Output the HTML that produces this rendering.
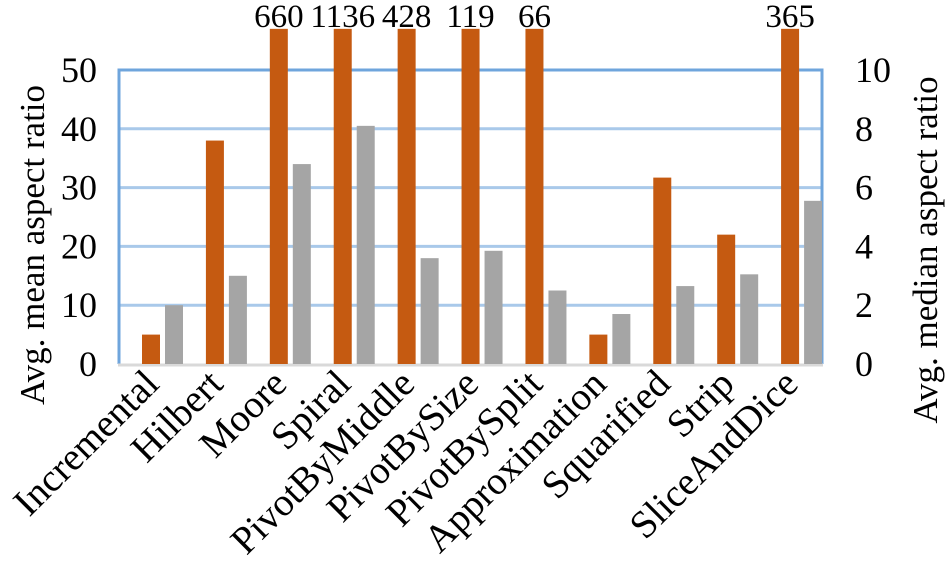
<!DOCTYPE html>
<html><head><meta charset="utf-8"><style>
body{margin:0;background:#fff}
svg text{font-family:"Liberation Serif",serif;fill:#000}
</style></head><body>
<svg id="chart" width="948" height="567" xmlns="http://www.w3.org/2000/svg">
<g id="grid"></g><g id="bars"></g><g id="labels"></g>
<text transform="translate(44,245) rotate(-90)" text-anchor="middle" font-size="35">Avg. mean aspect ratio</text>
<text transform="translate(937,250) rotate(-90)" text-anchor="middle" font-size="35">Avg. median aspect ratio</text>
</svg>
<script>
const categories=["Incremental","Hilbert","Moore","Spiral","PivotByMiddle","PivotBySize","PivotBySplit","Approximation","Squarified","Strip","SliceAndDice"];
const meanValues=[5,38,660,1136,428,119,66,5,31.7,22,365];
const medianValues=[2.0,3.0,6.8,8.1,3.6,3.85,2.5,1.7,2.65,3.05,5.55];
const leftTicks=[0,10,20,30,40,50];
const rightTicks=[0,2,4,6,8,10];
const NS="http://www.w3.org/2000/svg";
const X0=119,X1=822,Y0=364,Y1=70,CLIP=57;
const yL=v=>Y0-(Math.min(v,CLIP)/50)*(Y0-Y1);
const yR=v=>Y0-(v/10)*(Y0-Y1);
const gw=(X1-X0)/categories.length;
function mk(t,a,p){const e=document.createElementNS(NS,t);for(const k in a)e.setAttribute(k,a[k]);p.appendChild(e);return e;}
const grid=document.getElementById('grid'),bars=document.getElementById('bars'),labels=document.getElementById('labels');
leftTicks.forEach((t,i)=>{
 if(t>0&&t<50){const l=mk('line',{x1:X0,x2:X1,y1:yL(t),y2:yL(t),stroke:'#a9c9ea','stroke-width':3},grid);
 
 }
 const tx=mk('text',{x:97,y:yL(t)+12,'text-anchor':'end','font-size':36},labels);tx.textContent=t;
 
 
});
rightTicks.forEach(t=>{
 const tx=mk('text',{x:855,y:yR(t)+12,'font-size':36},labels);tx.textContent=t;
 
 
});
const fr=mk('path',{d:`M${X0},${Y0} V${Y1} H${X1} V${Y0}`,fill:'none',stroke:'#6fa5dc','stroke-width':3},grid);


const ax=mk('line',{x1:X0-1,x2:X1+1,y1:Y0+1,y2:Y0+1,stroke:'#d9d9d9','stroke-width':3},grid);


categories.forEach((c,i)=>{
 const gx=X0+i*gw;
 const ob=mk('rect',{x:gx+23,y:yL(meanValues[i]),width:18,height:Y0-yL(meanValues[i]),fill:'#c55a11'},bars);
 
 
 const gb=mk('rect',{x:gx+46,y:yR(medianValues[i]),width:18,height:Y0-yR(medianValues[i]),fill:'#a5a5a5'},bars);
 
 
 if(meanValues[i]>50){const v=mk('text',{x:gx+32,y:27,'text-anchor':'middle','font-size':33},labels);v.textContent=meanValues[i];
 
 }
 const cx=gx+gw/2+10;
 const t=mk('text',{transform:`translate(${cx},386) rotate(-45)`,'text-anchor':'end','font-size':39},labels);t.textContent=c;
 
 
});
</script>
</body></html>
